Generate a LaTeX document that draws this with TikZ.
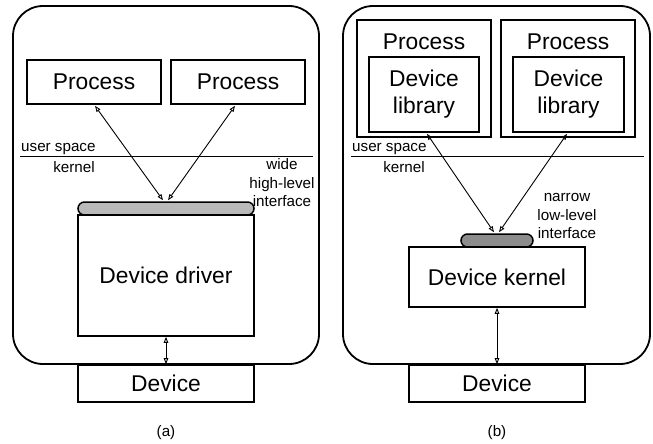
\documentclass[tikz,border=0pt]{standalone}
\usepackage{fontspec}
\setmainfont{Liberation Sans}
\usetikzlibrary{arrows.meta,calc}
\begin{document}
\begin{tikzpicture}[x=1pt,y=-1pt,
  big/.style={font=\fontsize{22.8}{27}\selectfont},
  small/.style={font=\fontsize{15.2}{18.5}\selectfont},
  boxed/.style={draw, line width=1.6pt, inner sep=0pt, anchor=center},
  outer/.style={draw, line width=1.8pt, rounded corners=30pt, inner sep=0pt, anchor=center},
  capsule/.style={draw, line width=1.5pt, inner sep=0pt, anchor=center},
  link/.style={line width=0.9pt, {Triangle[open,length=6pt,width=4.5pt]}-{Triangle[open,length=6pt,width=4.5pt]}},
  divider/.style={line width=1pt}
]
\useasboundingbox (0,0) rectangle (653,444);

% ---------- (a) ----------
\node[outer, minimum width=306pt, minimum height=358pt] (oa) at (166,185) {};
\node[boxed, fill=white, big, minimum width=134pt, minimum height=44pt] (pa1) at (94,82) {Process};
\node[boxed, fill=white, big, minimum width=134pt, minimum height=44pt] (pa2) at (238,82) {Process};
\coordinate (la1) at (20,156);
\coordinate (la2) at (313,156);
\draw[divider] (la1) -- (la2);
\node[small, anchor=base west, inner sep=0pt] (usa) at (21,151) {user space};
\node[small, inner sep=0pt] (kea) at (74,167) {kernel};
\node[small, align=center, inner sep=0pt] (wia) at (282,183) {wide\\high-level\\interface};
\node[capsule, fill=black!27, rounded corners=6.5pt, minimum width=176pt, minimum height=13pt] (ca) at (166,208.5) {};
\node[boxed, fill=white, big, minimum width=176pt, minimum height=121pt] (dd) at (166,275.5) {Device driver};
\node[boxed, fill=white, big, minimum width=176pt, minimum height=37pt] (deva) at (166,383.5) {Device};
\draw[link] ($(pa1.south)+(1,1)$) -- ($(ca.north)+(-3,-1)$);
\draw[link] ($(pa2.south)+(-3,1)$) -- ($(ca.north)+(2,-1)$);
\draw[link] (dd.south) -- (deva.north);
\node[small, inner sep=0pt] (capa) at (166,433) {(a)};

% ---------- (b) ----------
\node[outer, minimum width=307pt, minimum height=358pt] (ob) at (496.5,185) {};
\node[boxed, minimum width=134pt, minimum height=117pt] (pb1) at (424,78.5) {};
\node[boxed, minimum width=134pt, minimum height=117pt] (pb2) at (568,78.5) {};
\node[big, inner sep=0pt] (tb1) at (424,42) {Process};
\node[big, inner sep=0pt] (tb2) at (568,42) {Process};
\node[boxed, big, align=center, minimum width=110pt, minimum height=75pt] (lb1) at (424,94.5) {Device\\library};
\node[boxed, big, align=center, minimum width=111pt, minimum height=75pt] (lb2) at (568.5,94.5) {Device\\library};
\coordinate (lb1l) at (351,156);
\coordinate (lb2r) at (644,156);
\draw[divider] (lb1l) -- (lb2r);
\node[small, anchor=base west, inner sep=0pt] (usb) at (352,151) {user space};
\node[small, inner sep=0pt] (keb) at (404,167) {kernel};
\node[small, align=center, inner sep=0pt] (nab) at (567,216) {narrow\\low-level\\interface};
\node[capsule, fill=black!45, rounded corners=6.5pt, minimum width=72pt, minimum height=13pt] (cb) at (497,240.5) {};
\node[boxed, fill=white, big, minimum width=176pt, minimum height=60pt] (dk) at (497,277) {Device kernel};
\node[boxed, fill=white, big, minimum width=176pt, minimum height=37pt] (devb) at (497,383.5) {Device};
\draw[link] ($(lb1.south)+(3,1)$) -- ($(cb.north)+(-3,-1)$);
\draw[link] ($(lb2.south)+(-1.5,1)$) -- ($(cb.north)+(2,-1)$);
\draw[link] (dk.south) -- (devb.north);
\node[small, inner sep=0pt] (capb) at (497,433) {(b)};
\end{tikzpicture}
\end{document}
